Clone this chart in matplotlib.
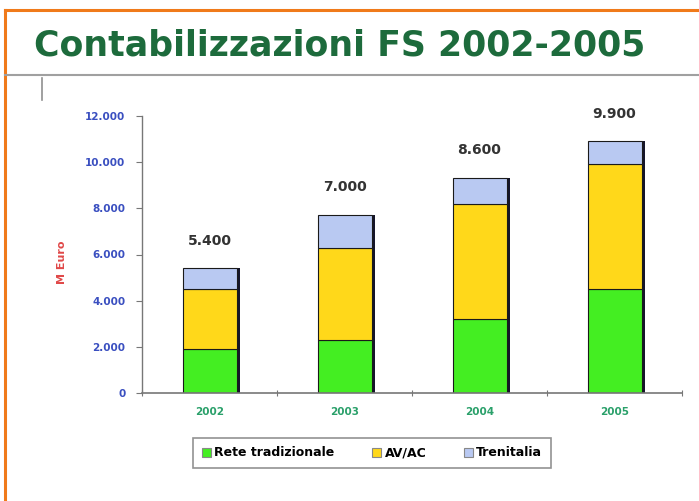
import matplotlib
matplotlib.use("Agg")
import matplotlib.pyplot as plt
from matplotlib.patches import Patch
from matplotlib.lines import Line2D

years = ["2002", "2003", "2004", "2005"]
rete = [1900, 2300, 3200, 4500]
avac = [2600, 4000, 5000, 5400]
treni = [900, 1400, 1100, 1000]
labels = ["5.400", "7.000", "8.600", "9.900"]
series_names = ["Rete tradizionale", "AV/AC", "Trenitalia"]
yticks = [0, 2000, 4000, 6000, 8000, 10000, 12000]

c_green = "#44ee22"
c_yellow = "#ffd81a"
c_blue = "#b9c9f2"

fig = plt.figure(figsize=(6.99, 5.01), dpi=100)
fig.patch.set_facecolor("white")

# orange frame
fig.add_artist(Line2D([5/699, 5/699], [0, 1 - 10/501], color="#f07a1a", lw=2.2, transform=fig.transFigure))
fig.add_artist(Line2D([5/699, 1], [1 - 10/501, 1 - 10/501], color="#f07a1a", lw=2.2, transform=fig.transFigure))
# gray rule under title
fig.add_artist(Line2D([5/699, 1], [1 - 75/501, 1 - 75/501], color="#a0a0a0", lw=1.5, transform=fig.transFigure))
fig.add_artist(Line2D([42/699, 42/699], [1 - 78/501, 1 - 100/501], color="#909090", lw=1.2, transform=fig.transFigure))

fig.text(340/699, 1 - 45/501, "Contabilizzazioni FS 2002-2005", ha="center", va="center",
         fontsize=25, fontweight="heavy", color="#1d6b3c", family="DejaVu Sans")

ax = fig.add_axes([142/699, 1 - 393/501, 540/699, 277/501])
x = list(range(len(years)))
w = 0.4
totals = [a + b + c for a, b, c in zip(rete, avac, treni)]
# shadow
ax.bar([i + 0.025 for i in x], totals, width=w, color="#15152a", zorder=1)
ax.bar(x, rete, width=w, color=c_green, edgecolor="#1a1a1a", lw=0.8, zorder=2)
ax.bar(x, avac, bottom=rete, width=w, color=c_yellow, edgecolor="#1a1a1a", lw=0.8, zorder=2)
ax.bar(x, treni, bottom=[a + b for a, b in zip(rete, avac)], width=w, color=c_blue,
       edgecolor="#1a1a1a", lw=0.8, zorder=2)

for i, (t, lab) in enumerate(zip(totals, labels)):
    ax.annotate(lab, (i, t), xytext=(0, 15), textcoords="offset points", ha="center", va="bottom",
                fontsize=10, fontweight="bold", color="#333333")

ax.set_xlim(-0.5, 3.5)
ax.set_ylim(0, 12000)
ax.set_yticks(yticks)
ax.set_yticklabels([f"{v:,}".replace(",", ".") for v in yticks], color="#3a4fc0",
                   fontsize=7.5, fontweight="bold")
ax.set_xticks([-0.5, 0.5, 1.5, 2.5, 3.5])
ax.set_xticklabels([])
ax.set_xticks(x, minor=True)
ax.set_xticklabels(years, minor=True, color="#2aa06a", fontsize=7.5, fontweight="bold")
ax.tick_params(axis="x", which="minor", length=0, pad=10)
ax.tick_params(axis="x", which="major", length=4, direction="inout", color="#777777")
ax.tick_params(axis="y", length=4, color="#777777", pad=8)
for s in ["top", "right"]:
    ax.spines[s].set_visible(False)
ax.spines["left"].set_color("#777777")
ax.spines["bottom"].set_color("#777777")
ax.spines["left"].set_linewidth(1)
ax.spines["bottom"].set_linewidth(1.2)

fig.text(62/699, 1 - 262/501, "M Euro", rotation=90, ha="center", va="center",
         color="#e04848", fontsize=8, fontweight="bold")

handles = [Patch(facecolor=c, edgecolor="#888888", lw=0.8) for c in [c_green, c_yellow, c_blue]]
leg = fig.legend(handles, series_names, loc="center", bbox_to_anchor=(372/699, 1 - 453/501), ncol=3,
                 frameon=True, fancybox=False, handlelength=0.7, handleheight=0.7,
                 handletextpad=0.3, columnspacing=3.0, borderpad=0.7, borderaxespad=0,
                 prop={"weight": "bold", "size": 9})
leg.get_frame().set_edgecolor("#777777")
leg.get_frame().set_linewidth(1.2)

fig.savefig("out.png", dpi=100)
